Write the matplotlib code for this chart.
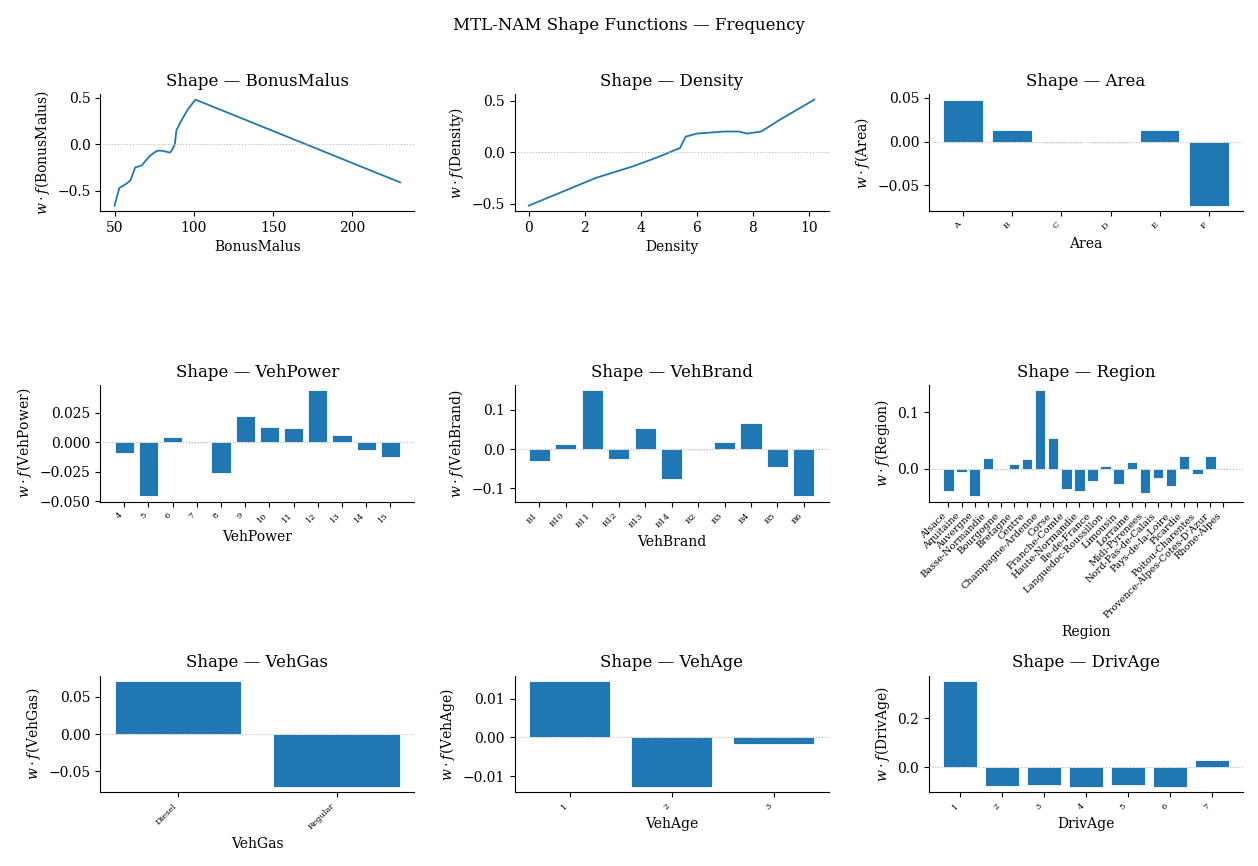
import matplotlib
matplotlib.use("Agg")
import matplotlib.pyplot as plt

plt.rcParams['font.family'] = ['DejaVu Serif']
plt.rcParams['mathtext.fontset'] = 'dejavuserif'

bm_x = [50,53,57,60,63,65,67,72,75,77,80,85,86,88,89,92,96,101,230]
bm_y = [-0.66,-0.47,-0.43,-0.39,-0.25,-0.24,-0.23,-0.13,-0.09,-0.07,-0.07,-0.09,-0.07,0.0,0.15,0.25,0.37,0.48,-0.41]
den_x = [0,2.4,3.7,4.6,5.4,5.6,6,7,7.5,7.8,8.3,9,10.2]
den_y = [-0.52,-0.25,-0.14,-0.05,0.04,0.15,0.18,0.20,0.20,0.18,0.20,0.32,0.51]
area_cats = ['A','B','C','D','E','F']
area_vals = [0.048,0.013,-0.002,-0.001,0.013,-0.073]
vp_cats = [str(i) for i in range(4,16)]
vp_vals = [-0.009,-0.046,0.004,-0.001,-0.026,0.022,0.013,0.012,0.044,0.006,-0.007,-0.013]
vb_cats = ['B1','B10','B11','B12','B13','B14','B2','B3','B4','B5','B6']
vb_vals = [-0.03,0.014,0.15,-0.025,0.054,-0.075,-0.002,0.018,0.066,-0.045,-0.12]
reg_cats = ['Alsace','Aquitaine','Auvergne','Basse-Normandie','Bourgogne','Bretagne','Centre',
            'Champagne-Ardenne','Corse','Franche-Comte','Haute-Normandie','Ile-de-France',
            'Languedoc-Roussillon','Limousin','Lorraine','Midi-Pyrenees','Nord-Pas-de-Calais',
            'Pays-de-la-Loire','Picardie','Poitou-Charentes',"Provence-Alpes-Cotes-D'Azur",'Rhone-Alpes']
reg_vals = [-0.038,-0.006,-0.048,0.019,-0.002,0.008,0.018,0.138,0.055,-0.035,-0.038,-0.021,
            0.006,-0.026,0.013,-0.042,-0.015,-0.029,0.022,-0.009,0.022,0.002]
gas_cats = ['Diesel','Regular']
gas_vals = [0.071,-0.071]
va_cats = ['1','2','3']
va_vals = [0.0145,-0.0128,-0.0017]
da_cats = [str(i) for i in range(1,8)]
da_vals = [0.35,-0.075,-0.07,-0.08,-0.072,-0.078,0.03]

fig, axes = plt.subplots(3, 3, figsize=(12.58, 8.66), dpi=100)
fig.suptitle('MTL-NAM Shape Functions — Frequency', fontsize=12)
C = '#1f77b4'

def style(ax, name):
    ax.axhline(0, color='#bbbbbb', lw=0.8, ls=':')
    ax.set_title(f'Shape — {name}', fontsize=12)
    ax.set_xlabel(name, fontsize=10)
    ax.set_ylabel(r'$w\cdot f$(' + name + ')', fontsize=10)
    ax.spines['top'].set_visible(False)
    ax.spines['right'].set_visible(False)

def line(ax, x, y, name):
    ax.plot(x, y, color=C, lw=1.3)
    style(ax, name)

def bar(ax, cats, vals, name, fs=6):
    ax.bar(range(len(cats)), vals, color=C, edgecolor='white', lw=0.6)
    ax.set_xticks(range(len(cats)))
    ax.set_xticklabels(cats, rotation=45, ha='right', fontsize=fs)
    style(ax, name)

line(axes[0,0], bm_x, bm_y, 'BonusMalus')
line(axes[0,1], den_x, den_y, 'Density')
bar(axes[0,2], area_cats, area_vals, 'Area')
bar(axes[1,0], vp_cats, vp_vals, 'VehPower')
bar(axes[1,1], vb_cats, vb_vals, 'VehBrand')
bar(axes[1,2], reg_cats, reg_vals, 'Region', fs=7)
bar(axes[2,0], gas_cats, gas_vals, 'VehGas')
bar(axes[2,1], va_cats, va_vals, 'VehAge')
bar(axes[2,2], da_cats, da_vals, 'DrivAge')

fig.tight_layout(rect=[0, 0, 1, 0.97])
fig.savefig('out.png', dpi=100)
